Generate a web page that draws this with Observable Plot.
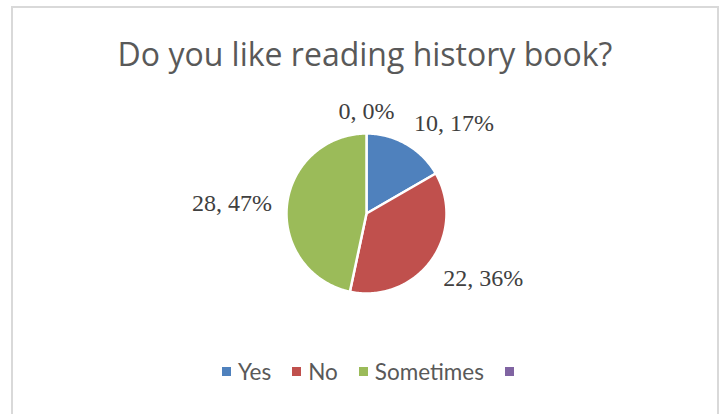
<!DOCTYPE html>
<html>
<head>
<meta charset="utf-8">
<script src="https://cdn.jsdelivr.net/npm/d3@7"></script>
<script src="https://cdn.jsdelivr.net/npm/@observablehq/plot@0.6"></script>
<style>
  html, body { margin: 0; padding: 0; background: #fff; }
  #wrap { position: relative; width: 722px; height: 414px; overflow: hidden; background: #fff; }
  #frame { position: absolute; left: 11px; top: 6px; width: 704px; height: 420px; border: 2px solid #d9d9d9; border-bottom: none; }
  #title { position: absolute; left: 11px; width: 708px; top: 36px; height: 36px; line-height: 36px; text-align: center;
           font-family: "Open Sans", Lato, sans-serif; font-size: 32px; color: #595959; white-space: nowrap; }
  #chart { position: absolute; left: 0; top: 90px; }
  #legend { position: absolute; left: 222px; top: 358px; height: 27px; display: flex; align-items: center;
            font-family: Lato, "Open Sans", sans-serif; font-size: 22.5px; color: #595959; line-height: 27px; white-space: nowrap; }
  .item { display: flex; align-items: center; margin-right: 21px; }
  .sw { width: 9px; height: 9px; margin-right: 7px; }
</style>
</head>
<body>
<div id="wrap">
  <div id="frame"></div>
  <div id="title"></div>
  <div id="chart"></div>
  <div id="legend"></div>
</div>
<script>
const titleText = "Do you like reading history book?";
const categories = ["Yes", "No", "Sometimes", ""];
const values = [10, 22, 28, 0];
const percents = [17, 36, 47, 0];
const colors = ["#4F81BD", "#C0504D", "#9BBB59", "#8064A2"];

document.getElementById("title").textContent = titleText;

const data = categories.map((c, i) => ({cat: c, key: "k" + i, value: values[i], pct: percents[i]}));
const arcs = d3.pie().sort(null).value(d => d.value)(data);

// slice polygons in unit-circle coordinates
const poly = [];
for (const a of arcs) {
  if (a.data.value <= 0) continue;
  poly.push({key: a.data.key, x: 0, y: 0});
  const n = Math.max(2, Math.ceil((a.endAngle - a.startAngle) / (Math.PI / 180)));
  for (let j = 0; j <= n; j++) {
    const t = a.startAngle + (a.endAngle - a.startAngle) * j / n;
    poly.push({key: a.data.key, x: Math.sin(t), y: Math.cos(t)});
  }
  poly.push({key: a.data.key, x: 0, y: 0});
}

// label anchors
const labelR = 95 / 80;
const labels = arcs.map(a => {
  const m = (a.startAngle + a.endAngle) / 2;
  const s = Math.sin(m), c = Math.cos(m);
  return {
    x: labelR * s, y: labelR * c,
    text: `${a.data.value}, ${a.data.pct}%`,
    textAnchor: s > 0.1 ? "start" : s < -0.1 ? "end" : "middle",
    lineAnchor: c >= 0.3 ? "bottom" : c <= -0.3 ? "top" : "middle"
  };
});
const groups = d3.groups(labels, d => d.textAnchor + "|" + d.lineAnchor);

const W = 722, H = 250, cx = 366, cy = 123, R = 80;
const chart = Plot.plot({
  width: W,
  height: H,
  marginLeft: cx - R,
  marginRight: W - cx - R,
  marginTop: cy - R,
  marginBottom: H - cy - R,
  x: {domain: [-1, 1], axis: null},
  y: {domain: [-1, 1], axis: null},
  color: {domain: data.map(d => d.key), range: colors},
  style: {background: "transparent", overflow: "visible"},
  marks: [
    Plot.line(poly, {x: "x", y: "y", z: "key", fill: "key", stroke: "white", strokeWidth: 2.5, curve: "linear"}),
    ...groups.map(([k, arr]) => Plot.text(arr, {
      x: "x", y: "y", text: "text",
      textAnchor: arr[0].textAnchor, lineAnchor: arr[0].lineAnchor,
      fontFamily: "Liberation Serif, Times New Roman, serif", fontSize: 24, fill: "#404040"
    }))
  ]
});
document.getElementById("chart").appendChild(chart);

const legend = document.getElementById("legend");
data.forEach((d, i) => {
  const it = document.createElement("div");
  it.className = "item";
  const sw = document.createElement("div");
  sw.className = "sw";
  sw.style.background = colors[i];
  const tx = document.createElement("span");
  tx.textContent = d.cat;
  it.appendChild(sw);
  it.appendChild(tx);
  legend.appendChild(it);
});
</script>
</body>
</html>
